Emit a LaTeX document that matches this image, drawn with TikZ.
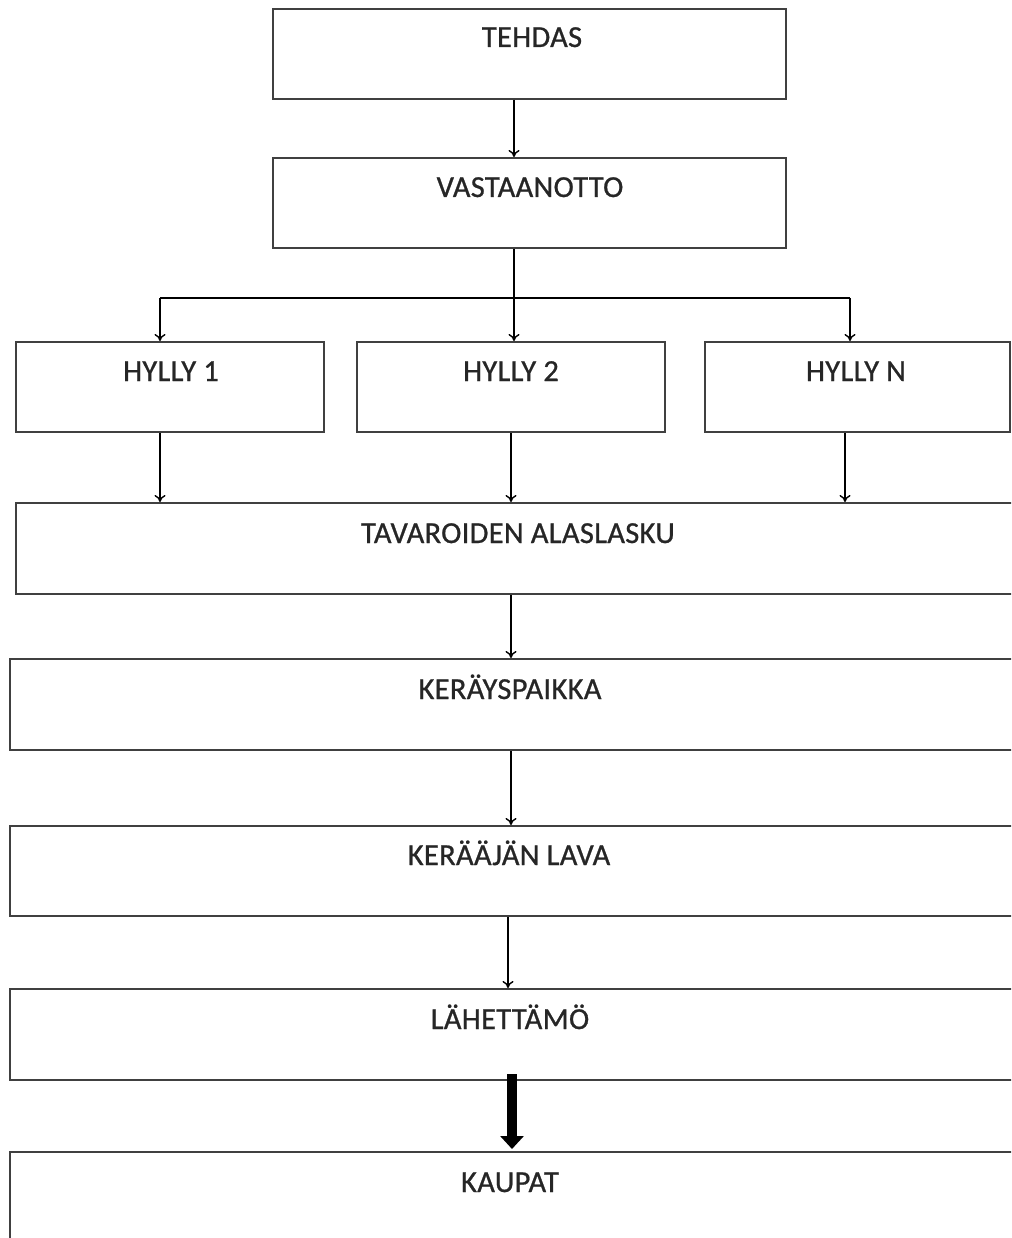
\documentclass[tikz,border=0pt]{standalone}
\usepackage{fontspec}
\setmainfont{Carlito}[FakeBold=0.8, LetterSpace=1.0]
\usetikzlibrary{arrows.meta}
\begin{document}
\begin{tikzpicture}[x=1pt,y=-1pt,
  box/.style={draw=black!75, line width=2pt, rectangle, inner sep=0pt},
  txt/.style={font=\fontsize{30.5}{35}\selectfont, text=black!85, inner sep=0pt, anchor=base},
  conn/.style={draw=black, line width=1.4pt},
  arr/.style={conn, -{To[length=7pt,width=11pt]}},
  bigarr/.style={draw=black, line width=10pt, -{Triangle[length=13pt,width=23pt]}}]
\clip (0,0) rectangle (1011,1238);
\fill[white] (0,0) rectangle (1011,1238);
% boxes
\node[box, minimum width=513pt, minimum height=90pt] (tehdas) at (529.5,54) {};
\node[box, minimum width=513pt, minimum height=90pt] (vast) at (529.5,203) {};
\node[box, minimum width=308pt, minimum height=90pt] (h1) at (170,387) {};
\node[box, minimum width=308pt, minimum height=90pt] (h2) at (511,387) {};
\node[box, minimum width=305pt, minimum height=90pt] (hN) at (857.5,387) {};
\node[box, minimum width=1014pt, minimum height=91pt] (tav) at (523,548.5) {};
\node[box, minimum width=1020pt, minimum height=91pt] (ker) at (520,704.5) {};
\node[box, minimum width=1020pt, minimum height=90pt] (lava) at (520,871) {};
\node[box, minimum width=1020pt, minimum height=91pt] (lah) at (520,1034.5) {};
\node[box, minimum width=1020pt, minimum height=98pt] (kau) at (520,1201) {};
% texts
\node[txt] (tehdasT) at (532,47) {TEHDAS};
\node[txt] (vastT) at (530,197) {VASTAANOTTO};
\node[txt] (h1T) at (171,381) {HYLLY 1};
\node[txt] (h2T) at (511,381) {HYLLY 2};
\node[txt] (hNT) at (856,381) {HYLLY N};
\node[txt] (tavT) at (518,543) {TAVAROIDEN ALASLASKU};
\node[txt] (kerT) at (510,699) {KERÄYSPAIKKA};
\node[txt] (lavaT) at (509,865) {KERÄÄJÄN LAVA};
\node[txt] (lahT) at (510,1029) {LÄHETTÄMÖ};
\node[txt] (kauT) at (510,1192) {KAUPAT};
% connector coordinates
\coordinate (c1) at (514,0);
\coordinate (jL) at (160,298);
\coordinate (jM) at (514,298);
\coordinate (jR) at (850,298);
\coordinate (d1) at (160,0);
\coordinate (d2) at (511,0);
\coordinate (d3) at (845,0);
\coordinate (d4) at (508,0);
\coordinate (d5) at (512,0);
% connectors
\draw[arr] (tehdas.south -| c1) -- (vast.north -| c1);
\draw[conn] (vast.south -| c1) -- (jM);
\draw[conn] (jL) -- (jR);
\draw[arr] (jL) -- (h1.north -| jL);
\draw[arr] (jM) -- (h2.north -| jM);
\draw[arr] (jR) -- (hN.north -| jR);
\draw[arr] (h1.south -| d1) -- (tav.north -| d1);
\draw[arr] (h2.south -| d2) -- (tav.north -| d2);
\draw[arr] (hN.south -| d3) -- (tav.north -| d3);
\draw[arr] (tav.south -| d2) -- (ker.north -| d2);
\draw[arr] (ker.south -| d2) -- (lava.north -| d2);
\draw[arr] (lava.south -| d4) -- (lah.north -| d4);
\draw[bigarr] ([yshift=7pt]lah.south -| d5) -- ([yshift=2pt]kau.north -| d5);
\end{tikzpicture}
\end{document}
